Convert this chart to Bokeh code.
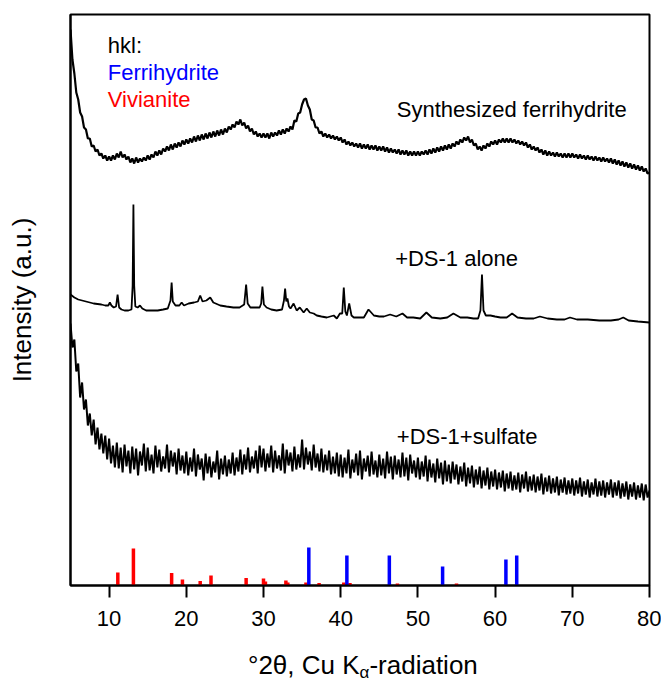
import numpy as np
from bokeh.plotting import figure
from bokeh.models import Label, Range1d, FixedTicker, ColumnDataSource, Div
from bokeh.layouts import column
from bokeh.embed import file_html
from bokeh.resources import INLINE

FONT = "Liberation Sans"

# ---------------- data ----------------
TWO_THETA_START = 5.0
TWO_THETA_STEP = 0.25
X_TICKS = [10, 20, 30, 40, 50, 60, 70, 80]

# Synthesized ferrihydrite (offset intensity, step 0.25 deg from 5 deg)
FERRIHYDRITE_SYN = [
    556, 526, 512, 493, 486, 473, 469, 458, 456, 447, 447, 439, 440, 434, 436, 430, 432, 427, 430, 425,
    429, 425, 430, 426, 432, 428, 434, 428, 431, 426, 429, 423, 427, 422, 428, 423, 427, 424, 428, 425,
    430, 426, 431, 428, 434, 430, 435, 431, 437, 434, 439, 435, 441, 436, 442, 438, 443, 439, 445, 441,
    446, 442, 447, 443, 449, 444, 450, 445, 451, 446, 452, 447, 453, 448, 454, 449, 455, 450, 456, 451,
    457, 453, 459, 456, 461, 458, 464, 461, 466, 460, 463, 457, 460, 454, 457, 451, 454, 449, 452, 448,
    452, 448, 452, 447, 453, 449, 453, 450, 455, 451, 456, 452, 457, 454, 459, 456, 465, 464, 472, 473,
    481, 486, 487, 480, 476, 466, 465, 458, 458, 452, 454, 449, 452, 448, 451, 447, 450, 446, 449, 445,
    448, 443, 446, 441, 444, 440, 443, 439, 442, 438, 442, 437, 441, 437, 441, 436, 440, 436, 440, 435,
    439, 435, 439, 434, 438, 433, 437, 433, 436, 432, 436, 431, 435, 431, 435, 430, 434, 430, 434, 430,
    434, 430, 434, 431, 435, 431, 436, 432, 437, 433, 438, 434, 439, 435, 440, 436, 441, 437, 442, 439,
    444, 441, 446, 443, 448, 445, 449, 443, 446, 440, 442, 436, 439, 435, 440, 437, 442, 439, 444, 441,
    445, 441, 446, 443, 447, 443, 447, 443, 447, 443, 446, 442, 445, 441, 444, 440, 443, 438, 441, 436,
    439, 435, 438, 433, 436, 431, 435, 430, 434, 430, 433, 429, 433, 429, 432, 428, 432, 428, 432, 428,
    432, 428, 431, 427, 431, 427, 430, 426, 430, 426, 429, 425, 429, 425, 428, 424, 428, 424, 427, 423,
    427, 422, 426, 421, 425, 420, 424, 419, 423, 418, 422, 417, 421, 416, 420, 415, 419, 414, 417, 412,
    413,
]

# +DS-1+sulfate (offset intensity, step 0.25 deg from 5 deg)
DS1_SULFATE = [
    262, 238, 246, 214, 222, 188, 203, 176, 186, 160, 172, 150, 166, 141, 158, 136, 152, 132, 150, 126,
    147, 122, 140, 118, 143, 117, 138, 113, 141, 119, 135, 112, 139, 116, 137, 110, 134, 120, 142, 114,
    138, 115, 131, 112, 140, 118, 136, 114, 129, 117, 141, 113, 135, 119, 133, 111, 137, 115, 130, 112,
    134, 110, 128, 114, 137, 109, 131, 116, 127, 105, 132, 112, 129, 108, 124, 113, 135, 106, 127, 111,
    130, 109, 126, 112, 133, 110, 128, 114, 136, 111, 131, 116, 138, 113, 129, 117, 135, 112, 140, 118,
    137, 114, 132, 118, 140, 113, 135, 117, 130, 115, 142, 112, 136, 120, 133, 114, 139, 116, 131, 118,
    146, 116, 138, 121, 134, 115, 141, 118, 132, 114, 137, 113, 131, 115, 135, 111, 129, 112, 133, 109,
    131, 108, 128, 112, 136, 107, 126, 113, 132, 110, 135, 106, 127, 114, 130, 109, 134, 111, 125, 108,
    131, 110, 127, 107, 134, 112, 129, 106, 130, 111, 126, 108, 133, 109, 128, 105, 131, 112, 125, 108,
    128, 106, 124, 109, 130, 104, 126, 108, 122, 103, 127, 107, 123, 101, 125, 104, 121, 102, 124, 106,
    121, 101, 119, 104, 123, 99, 118, 102, 120, 98, 116, 101, 119, 97, 115, 100, 118, 96, 114, 99,
    116, 96, 113, 98, 115, 94, 112, 97, 114, 95, 110, 96, 113, 93, 111, 97, 114, 94, 109, 95,
    111, 93, 109, 95, 112, 91, 108, 94, 110, 92, 107, 93, 109, 90, 106, 93, 108, 91, 105, 92,
    107, 90, 105, 92, 108, 89, 104, 91, 106, 88, 103, 91, 107, 89, 104, 90, 105, 88, 103, 91,
    106, 88, 103, 90, 105, 87, 102, 89, 104, 86, 101, 89, 103, 86, 100, 88, 102, 85, 101, 88,
    95,
]

# +DS-1 alone: (2theta, offset intensity)
DS1_ALONE = [
    (5.0, 291), (5.5, 288), (6.0, 286), (6.5, 285), (7.0, 284), (7.5, 283), (8.0, 282), (8.5, 281.5),
    (9.0, 281), (9.5, 280), (9.9, 280), (10.1, 283), (10.3, 280), (10.6, 278), (10.9, 279), (11.1, 291),
    (11.3, 278), (11.6, 276), (12.0, 275), (12.5, 275), (12.9, 276), (13.05, 300), (13.15, 381),
    (13.25, 300), (13.4, 279), (13.7, 278), (14.0, 280), (14.3, 277), (14.8, 275), (15.5, 275),
    (16.3, 275), (17.0, 276), (17.6, 277), (17.95, 285), (18.1, 303), (18.25, 284), (18.6, 280),
    (19.1, 280), (19.4, 283), (19.7, 280), (20.3, 282), (21.0, 283), (21.5, 284), (21.8, 290),
    (22.1, 284), (22.6, 285), (23.1, 288), (23.5, 283), (24.4, 280), (25.2, 279), (26.1, 278),
    (26.9, 278), (27.5, 281), (27.75, 301), (27.95, 282), (28.3, 278), (28.9, 278), (29.5, 278),
    (29.7, 282), (29.86, 299), (30.05, 281), (30.4, 278), (31.0, 276), (31.7, 275), (32.4, 276),
    (32.65, 285), (32.8, 297), (32.95, 284), (33.1, 287), (33.3, 279), (33.5, 277), (33.9, 282),
    (34.3, 275), (34.7, 278), (35.2, 273), (35.6, 277), (36.0, 273), (36.5, 272), (36.9, 270),
    (37.5, 269), (38.2, 268), (39.1, 270), (39.5, 267), (39.9, 272), (40.2, 272), (40.4, 298),
    (40.6, 274), (40.8, 270), (41.1, 282), (41.4, 270), (41.7, 268), (42.5, 268), (43.0, 268),
    (43.6, 276), (44.3, 270), (45.0, 269), (45.6, 269), (46.4, 271), (47.2, 269), (48.0, 272),
    (48.6, 268), (49.4, 268), (50.3, 267), (51.1, 273), (51.8, 268), (52.9, 267), (53.8, 268),
    (54.6, 272), (55.5, 268), (56.4, 268), (57.2, 267), (57.8, 267), (58.1, 275), (58.3, 311),
    (58.5, 275), (58.8, 270), (59.4, 270), (60.0, 269), (60.7, 268), (61.5, 268), (62.2, 272),
    (62.9, 268), (64.0, 267), (65.0, 267), (65.8, 269), (66.8, 267), (68.0, 266), (69.0, 266),
    (69.7, 268), (70.6, 266), (72.0, 266), (73.5, 265), (75.0, 265), (76.0, 266), (76.6, 268),
    (77.3, 265), (78.5, 264), (80.0, 263),
]

# reference patterns (hkl sticks)
VIVIANITE_POS = [11.13, 13.15, 18.1, 19.5, 21.8, 23.2, 27.75, 30.0, 30.25, 32.9, 33.15, 35.5,
                 37.2, 40.4, 41.2, 47.35, 55.0]
VIVIANITE_INT = [13, 37, 12.5, 6, 4.5, 10, 7.5, 7, 4, 5, 3, 3, 2.5, 3, 2.5, 2, 2]
FERRI_POS = [35.87, 40.8, 46.3, 53.2, 61.4, 62.8]
FERRI_INT = [38, 30, 30, 19, 26, 30]

# ---------------- figure ----------------
p = figure(frame_width=579, frame_height=571,
           x_range=Range1d(5, 80), y_range=Range1d(0, 571),
           output_backend="svg", toolbar_location=None,
           min_border_left=70, min_border_right=12, min_border_top=14, min_border_bottom=67,
           background_fill_color="white", border_fill_color="white")
p.xgrid.visible = False
p.ygrid.visible = False
p.outline_line_color = "black"
p.outline_line_width = 2

xa = p.xaxis[0]
xa.ticker = FixedTicker(ticks=X_TICKS)
xa.minor_tick_line_color = None
xa.major_tick_in = 0
xa.major_tick_out = 12
xa.major_tick_line_width = 2
xa.major_tick_line_color = "black"
xa.axis_line_width = 2
xa.axis_line_color = "black"
xa.major_label_text_font = FONT
xa.major_label_text_font_size = "22px"
xa.major_label_text_color = "black"
xa.major_label_standoff = 13

ya = p.yaxis[0]
ya.ticker = FixedTicker(ticks=[])
ya.minor_tick_line_color = None
ya.major_tick_in = 0
ya.major_tick_out = 0
ya.major_label_standoff = 0
ya.axis_line_width = 2
ya.axis_line_color = "black"
ya.axis_label = "Intensity (a.u.)"
ya.axis_label_text_font = FONT
ya.axis_label_text_font_size = "26px"
ya.axis_label_text_font_style = "normal"
ya.axis_label_text_color = "black"
ya.axis_label_standoff = 34

grid_x = np.linspace(TWO_THETA_START, TWO_THETA_START + TWO_THETA_STEP * (len(FERRIHYDRITE_SYN) - 1),
                     len(FERRIHYDRITE_SYN))
p.line(grid_x, FERRIHYDRITE_SYN, line_color="black", line_width=2.2)
grid_x3 = np.linspace(TWO_THETA_START, TWO_THETA_START + TWO_THETA_STEP * (len(DS1_SULFATE) - 1),
                      len(DS1_SULFATE))
p.line(grid_x3, DS1_SULFATE, line_color="black", line_width=2.0)
p.line([a for a, b in DS1_ALONE], [b for a, b in DS1_ALONE], line_color="black", line_width=1.8)

viv = ColumnDataSource(dict(x=VIVIANITE_POS, y0=[0] * len(VIVIANITE_POS), y1=VIVIANITE_INT))
fer = ColumnDataSource(dict(x=FERRI_POS, y0=[0] * len(FERRI_POS), y1=FERRI_INT))
p.segment(x0="x", y0="y0", x1="x", y1="y1", source=viv, line_color="#ff0000", line_width=3.5)
p.segment(x0="x", y0="y0", x1="x", y1="y1", source=fer, line_color="#0000ff", line_width=3.5)


def lab(x, y, text, color="black", size="22px", align="left"):
    p.add_layout(Label(x=x, y=y, text=text, text_font=FONT, text_font_size=size,
                       text_color=color, text_baseline="alphabetic", text_align=align))


lab(9.83, 540, "hkl:")
lab(9.83, 513, "Ferrihydrite", "#0000ff")
lab(9.83, 486, "Vivianite", "#ff0000")
lab(47.27, 476, "Synthesized ferrihydrite")
lab(47.05, 327, "+DS-1 alone")
lab(47.27, 149, "+DS-1+sulfate")

# x-axis title (with subscript alpha) as real HTML text below the plot
x_title = Div(
    text=('<div style="margin-left:248px;white-space:nowrap;font-family:\'Liberation Sans\';'
          'font-size:26px;line-height:26px;color:black;">°2θ, Cu K'
          '<span style="font-size:17px;position:relative;top:4px;">α</span>-radiation</div>'),
    width=661, height=30, margin=(0, 0, 0, 0))

layout = column(p, x_title, spacing=0)
open("out.html", "w").write(file_html(layout, INLINE))
